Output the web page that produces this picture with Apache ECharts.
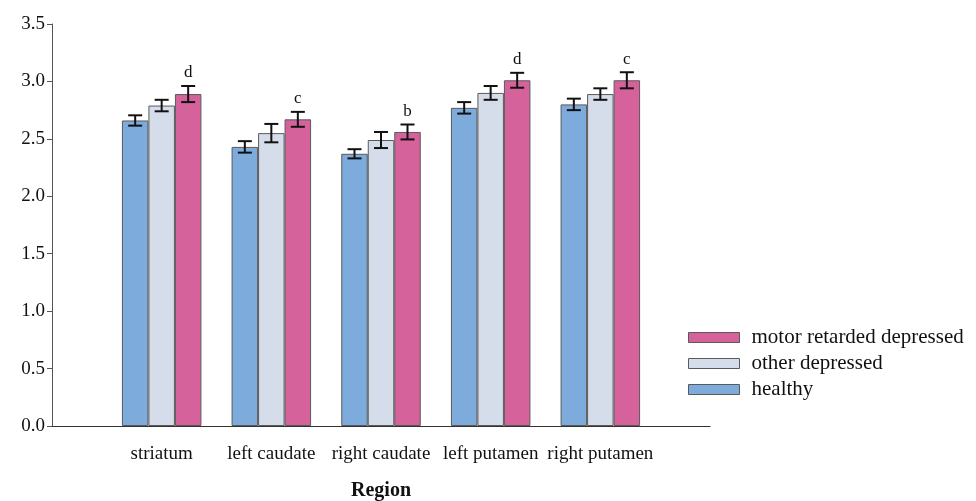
<!DOCTYPE html>
<html>
<head>
<meta charset="utf-8">
<script src="https://cdn.jsdelivr.net/npm/echarts@6/dist/echarts.min.js"></script>
<style>html,body{margin:0;padding:0;background:#fff;}#c{width:976px;height:501px;}</style>
</head>
<body>
<div id="c"></div>
<script>
const regions = ['striatum', 'left caudate', 'right caudate', 'left putamen', 'right putamen'];
const seriesNames = ['healthy', 'other depressed', 'motor retarded depressed'];
const healthy = [2.66, 2.43, 2.37, 2.77, 2.80];
const healthyErr = [0.045, 0.05, 0.04, 0.05, 0.05];
const otherDep = [2.79, 2.55, 2.49, 2.90, 2.89];
const otherDepErr = [0.05, 0.08, 0.07, 0.06, 0.05];
const motorDep = [2.89, 2.67, 2.56, 3.01, 3.01];
const motorDepErr = [0.07, 0.065, 0.065, 0.065, 0.07];
const sigLetters = ['d', 'c', 'b', 'd', 'c'];
const yTicks = [0, 0.5, 1.0, 1.5, 2.0, 2.5, 3.0, 3.5];

const colors = ['#7DABDB', '#D5DCEA', '#D6629C'];
const FONT = '"Liberation Serif", "DejaVu Serif", serif';
const BAR_W = 26.5;

const cats = [''].concat(regions).concat(['']);
const pad = arr => ['-'].concat(arr).concat(['-']);

const means = [healthy, otherDep, motorDep];
const errs = [healthyErr, otherDepErr, motorDepErr];

const errData = [];
for (let s = 0; s < 3; s++) {
  for (let i = 0; i < regions.length; i++) {
    errData.push([i + 1, means[s][i], errs[s][i], s]);
  }
}
const letterData = regions.map((r, i) => [i + 1, motorDep[i] + motorDepErr[i], sigLetters[i]]);

const chart = echarts.init(document.getElementById('c'), null, {renderer: 'canvas'});

const barSeries = seriesNames.map((n, s) => ({
  name: n,
  type: 'bar',
  data: pad(means[s]),
  barWidth: BAR_W,
  barGap: '0%',
  itemStyle: {color: colors[s], borderColor: '#5a5a5a', borderWidth: 1},
  emphasis: {disabled: true},
  z: 2
}));

option = {
  animation: false,
  backgroundColor: '#ffffff',
  textStyle: {fontFamily: FONT},
  grid: {left: 52, right: 266, top: 24, bottom: 75, containLabel: false, outerBoundsMode: 'none'},
  legend: {
    orient: 'vertical',
    left: 683,
    top: 322,
    itemWidth: 51,
    itemHeight: 10,
    itemGap: 5,
    icon: 'rect',
    data: ['motor retarded depressed', 'other depressed', 'healthy'],
    textStyle: {fontFamily: FONT, fontSize: 21, color: '#111', padding: [0, 0, 0, 7]},
    itemStyle: {borderColor: '#5a5a5a', borderWidth: 1}
  },
  xAxis: {
    type: 'category',
    data: cats,
    boundaryGap: false,
    axisLine: {lineStyle: {color: '#333', width: 1.2}},
    axisTick: {show: false},
    axisLabel: {fontFamily: FONT, fontSize: 19, color: '#111', margin: 19, interval: 0},
    splitLine: {show: false},
    name: 'Region',
    nameLocation: 'middle',
    nameGap: 55,
    nameTextStyle: {fontFamily: FONT, fontSize: 20, fontWeight: 'bold', color: '#111'}
  },
  yAxis: {
    type: 'value',
    min: yTicks[0],
    max: yTicks[yTicks.length - 1],
    interval: 0.5,
    axisLine: {show: true, lineStyle: {color: '#555', width: 1}},
    axisTick: {show: true, length: 5, lineStyle: {color: '#555'}},
    axisLabel: {fontFamily: FONT, fontSize: 19, color: '#111', margin: 7, formatter: v => v.toFixed(1)},
    splitLine: {show: false}
  },
  series: barSeries.concat([
    {
      type: 'custom',
      name: 'err',
      data: errData,
      z: 5,
      silent: true,
      encode: {x: 0, y: 1},
      renderItem: function (params, api) {
        const x = api.value(0), m = api.value(1), e = api.value(2), s = api.value(3);
        const off = (s - 1) * BAR_W;
        const hi = api.coord([x, m + e]);
        const lo = api.coord([x, m - e]);
        const cx = hi[0] + off;
        const cap = 7;
        const st = {stroke: '#111', lineWidth: 2};
        return {
          type: 'group',
          children: [
            {type: 'line', shape: {x1: cx, y1: hi[1], x2: cx, y2: lo[1]}, style: st},
            {type: 'line', shape: {x1: cx - cap, y1: hi[1], x2: cx + cap, y2: hi[1]}, style: st},
            {type: 'line', shape: {x1: cx - cap, y1: lo[1], x2: cx + cap, y2: lo[1]}, style: st}
          ]
        };
      }
    },
    {
      type: 'custom',
      name: 'letters',
      data: letterData,
      z: 6,
      silent: true,
      encode: {x: 0, y: 1},
      renderItem: function (params, api) {
        const p = api.coord([api.value(0), api.value(1)]);
        return {
          type: 'text',
          style: {
            x: p[0] + BAR_W,
            y: p[1] - 13,
            text: letterData[params.dataIndex][2],
            fontFamily: FONT,
            fontSize: 17,
            fill: '#111',
            align: 'center',
            verticalAlign: 'middle'
          }
        };
      }
    }
  ])
};
chart.setOption(option);
</script>
</body>
</html>
